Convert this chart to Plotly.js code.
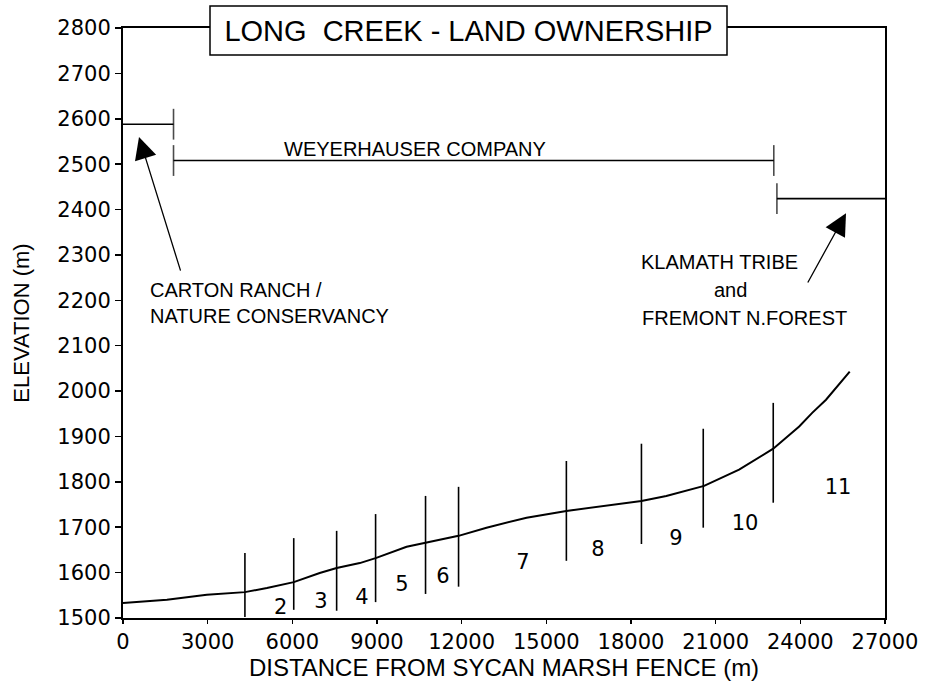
<!DOCTYPE html>
<html><head><meta charset="utf-8">
<script src="https://cdn.plot.ly/plotly-3.0.1.min.js"></script>
<style>html,body{margin:0;padding:0;background:#fff}#chart{width:928px;height:685px}</style>
</head><body><div id="chart"></div>
<script>
// Long Creek elevation profile (distance m, elevation m)
const profileDistance  = [0,1557,2970,4320,5100,6050,6970,7570,8390,8950,10050,10720,11890,12880,14300,15710,16880,17590,18370,19250,20590,21830,23040,23960,24420,24910,25120,25450,25750];
const profileElevation = [1533,1540,1551,1557,1566,1579,1599,1610,1621,1632,1657,1666,1681,1699,1721,1736,1745,1752,1758,1769,1791,1827,1873,1922,1952,1981,1997,2020,2043];

// Reach boundaries (vertical dividers)
const boundaryDistance = [4320,6050,7570,8950,10720,11890,15710,18370,20560,23040];
const boundaryBottom   = [1502,1518,1516,1535,1553,1569,1626,1663,1699,1754];
const boundaryTop      = [1643,1676,1692,1729,1769,1789,1846,1884,1917,1974];

// Reach numbers
const reachLabels    = ["2","3","4","5","6","7","8","9","10","11"];
const reachDistance  = [5590,7016,8469,9886,11339,14173,16831,19595,22040,25335];
const reachElevation = [1520,1533,1542,1571,1588,1619,1648,1672,1705,1784];

// Land ownership ranges
const ownerNames     = ["CARTON RANCH / NATURE CONSERVANCY","WEYERHAUSER COMPANY","KLAMATH TRIBE and FREMONT N.FOREST"];
const ownerStart     = [0,1790,23170];
const ownerEnd       = [1790,23060,27000];
const ownerElevation = [2588,2508,2424];

// Axis ticks
const xTicks = [0,3000,6000,9000,12000,15000,18000,21000,24000,27000];
const yTicks = [1500,1600,1700,1800,1900,2000,2100,2200,2300,2400,2500,2600,2700,2800];

const X_MAX = 27000;
const traces = [];

traces.push({
  x: profileDistance, y: profileElevation, type: 'scatter', mode: 'lines',
  line: {color: '#000', width: 2}, hoverinfo: 'skip', showlegend: false
});

const bx = [], by = [];
boundaryDistance.forEach((d, i) => { bx.push(d, d, null); by.push(boundaryBottom[i], boundaryTop[i], null); });
traces.push({
  x: bx, y: by, type: 'scatter', mode: 'lines',
  line: {color: '#000', width: 1.6}, hoverinfo: 'skip', showlegend: false
});

traces.push({
  x: reachDistance, y: reachElevation, text: reachLabels, type: 'scatter', mode: 'text',
  textfont: {family: 'DejaVu Sans, sans-serif', size: 21, color: '#000'},
  textposition: 'middle center', hoverinfo: 'skip', showlegend: false
});

ownerNames.forEach((name, i) => {
  const capSizes = [ownerStart[i] === 0 ? 0 : 22, ownerEnd[i] === X_MAX ? 0 : 22];
  traces.push({
    name: name,
    x: [ownerStart[i], ownerEnd[i]], y: [ownerElevation[i], ownerElevation[i]],
    type: 'scatter', mode: 'lines+markers',
    line: {color: '#000', width: 1.6},
    marker: {symbol: 'line-ns', size: capSizes, line: {color: '#000', width: 1.6}},
    hoverinfo: 'skip', showlegend: false
  });
});

const annFont = {family: 'Liberation Sans, Arial, sans-serif', size: 20, color: '#000'};
const annotations = [
  {x: 10330, y: 2533, xref: 'x', yref: 'y', text: 'WEYERHAUSER COMPANY', showarrow: false, font: annFont, xanchor: 'center', yanchor: 'middle'},
  {x: 886, y: 2223, xref: 'x', yref: 'y', text: 'CARTON RANCH /', showarrow: false, font: annFont, xanchor: 'left', yanchor: 'middle'},
  {x: 886, y: 2166, xref: 'x', yref: 'y', text: 'NATURE CONSERVANCY', showarrow: false, font: annFont, xanchor: 'left', yanchor: 'middle'},
  {x: 18284, y: 2284, xref: 'x', yref: 'y', text: 'KLAMATH TRIBE', showarrow: false, font: annFont, xanchor: 'left', yanchor: 'middle'},
  {x: 21508, y: 2223, xref: 'x', yref: 'y', text: 'and', showarrow: false, font: annFont, xanchor: 'center', yanchor: 'middle'},
  {x: 18319, y: 2161, xref: 'x', yref: 'y', text: 'FREMONT N.FOREST', showarrow: false, font: annFont, xanchor: 'left', yanchor: 'middle'},
  // arrows
  {x: 567, y: 2560, ax: 2055, ay: 2262, xref: 'x', yref: 'y', axref: 'x', ayref: 'y', text: '', showarrow: true,
   arrowhead: 2, arrowsize: 3.4, arrowwidth: 1.3, arrowcolor: '#000', standoff: 0},
  {x: 25618, y: 2392, ax: 24236, ay: 2236, xref: 'x', yref: 'y', axref: 'x', ayref: 'y', text: '', showarrow: true,
   arrowhead: 2, arrowsize: 3.4, arrowwidth: 1.3, arrowcolor: '#000', standoff: 0}
];

const L = 123, R = 43, T = 28, B = 67, W = 928, H = 685;
const pw = W - L - R, ph = H - T - B;

const tickFont = {family: 'DejaVu Sans, sans-serif', size: 21, color: '#000'};
const layout = {
  width: W, height: H,
  margin: {l: L, r: R, t: T, b: B, pad: 0},
  paper_bgcolor: '#fff', plot_bgcolor: '#fff',
  showlegend: false,
  title: {text: 'LONG&nbsp;&nbsp;CREEK - LAND OWNERSHIP', font: {family: 'Liberation Sans, Arial, sans-serif', size: 29, color: '#000'},
          xref: 'paper', x: ((210 - L) + (727 - L)) / 2 / pw, xanchor: 'center',
          yref: 'container', y: 1 - 31 / H, yanchor: 'middle'},
  xaxis: {
    range: [0, X_MAX], tickvals: xTicks, ticktext: xTicks.map(String),
    showgrid: false, zeroline: false, showline: true, mirror: true, linecolor: '#000', linewidth: 2,
    ticks: 'outside', ticklen: 4, tickwidth: 1.5, tickcolor: '#000', tickfont: tickFont,
    title: {text: 'DISTANCE FROM SYCAN MARSH FENCE (m)', font: {family: 'Liberation Sans, Arial, sans-serif', size: 24, color: '#000'}, standoff: 5},
    automargin: false
  },
  yaxis: {
    range: [1500, 2800], tickvals: yTicks, ticktext: yTicks.map(String),
    showgrid: false, zeroline: false, showline: true, mirror: true, linecolor: '#000', linewidth: 2,
    ticks: 'outside', ticklen: 6, tickwidth: 1.5, tickcolor: '#000', tickfont: tickFont,
    title: {text: 'ELEVATION (m)', font: {family: 'Liberation Sans, Arial, sans-serif', size: 22, color: '#000'}, standoff: 22},
    automargin: false
  },
  shapes: [
    {type: 'rect', xref: 'paper', yref: 'paper', layer: 'above',
     x0: (210 - L) / pw, x1: (727 - L) / pw, y0: (H - B - 55) / ph, y1: (H - B - 6) / ph,
     fillcolor: '#fff', line: {color: '#000', width: 1.5}}
  ],
  annotations: annotations
};

Plotly.newPlot('chart', traces, layout, {displayModeBar: false, staticPlot: true});
</script>
</body></html>
